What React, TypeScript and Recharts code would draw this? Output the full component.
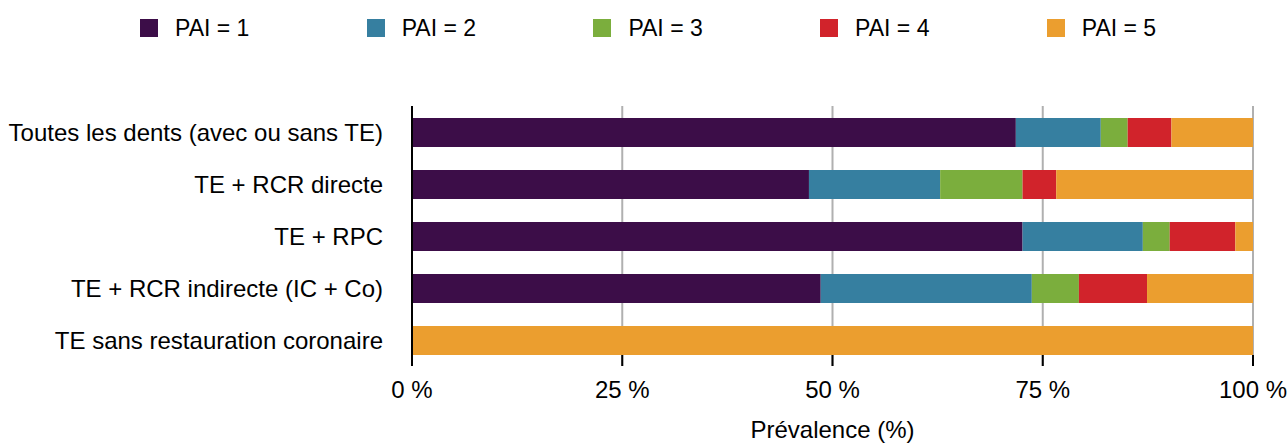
import React from "react"
import { Bar, BarChart, CartesianGrid, Legend, XAxis, YAxis } from "recharts"

document.body.style.margin = "0"

const categories = [
  "Toutes les dents (avec ou sans TE)",
  "TE + RCR directe",
  "TE + RPC",
  "TE + RCR indirecte (IC + Co)",
  "TE sans restauration coronaire",
]

const pai1 = [71.8, 47.2, 72.6, 48.6, 0]
const pai2 = [10.1, 15.6, 14.3, 25.1, 0]
const pai3 = [3.2, 9.8, 3.2, 5.6, 0]
const pai4 = [5.2, 4.0, 7.8, 8.1, 0]
const pai5 = [9.7, 23.4, 2.1, 12.6, 100]

const xTicks = [0, 25, 50, 75, 100]

const series = [
  { key: "pai1", label: "PAI = 1", color: "#3c0d48" },
  { key: "pai2", label: "PAI = 2", color: "#367fa0" },
  { key: "pai3", label: "PAI = 3", color: "#7bae3d" },
  { key: "pai4", label: "PAI = 4", color: "#d1232b" },
  { key: "pai5", label: "PAI = 5", color: "#eb9e2f" },
]

const data = categories.map((name, i) => ({
  name,
  pai1: pai1[i],
  pai2: pai2[i],
  pai3: pai3[i],
  pai4: pai4[i],
  pai5: pai5[i],
}))

const font = '"Liberation Sans", Arial, sans-serif'

function LegendContent() {
  return (
    <div style={{ position: "relative", width: 1288, height: 50, fontFamily: font }}>
      {series.map((s, i) => (
        <div
          key={s.key}
          style={{
            position: "absolute",
            left: 140 + i * 226.7,
            top: 15,
            display: "flex",
            alignItems: "center",
            height: 26,
          }}
        >
          <span style={{ width: 18, height: 18, background: s.color, display: "inline-block" }} />
          <span style={{ marginLeft: 17, fontSize: 23, color: "#000" }}>{s.label}</span>
        </div>
      ))}
    </div>
  )
}

function XTick({ x, y, payload }: any) {
  return (
    <g>
      <line x1={x} x2={x} y1={y - 11} y2={y} stroke="#000" strokeWidth={2} />
      <text x={x} y={y + 23} textAnchor="middle" dominantBaseline="central" fontSize={24} fill="#000" fontFamily={font}>
        {`${payload.value} %`}
      </text>
    </g>
  )
}

export default function App() {
  return (
    <BarChart
      width={1288}
      height={444}
      data={data}
      layout="vertical"
      margin={{ top: 56, right: 35, left: 0, bottom: 6 }}
      style={{ fontFamily: font }}
    >
      <Legend verticalAlign="top" height={50} content={<LegendContent />} wrapperStyle={{ top: 0, left: 0 }} />
      <CartesianGrid horizontal={false} stroke="#b0b0b0" strokeWidth={2} />
      <XAxis
        type="number"
        domain={[0, 100]}
        ticks={xTicks}
        axisLine={false}
        tickLine={false}
        tickSize={0}
        tickMargin={0}
        height={72}
        tick={<XTick />}
        interval={0}
        label={{ value: "Prévalence (%)", position: "insideBottom", offset: 0, fontSize: 24, fill: "#000" }}
      />
      <YAxis
        type="category"
        dataKey="name"
        width={412}
        axisLine={{ stroke: "#000", strokeWidth: 2 }}
        tickLine={false}
        tickSize={0}
        tickMargin={29}
        tick={{ fontSize: 24, fill: "#000" }}
        interval={0}
      />
      {series.map((s) => (
        <Bar key={s.key} dataKey={s.key} stackId="a" fill={s.color} barSize={29} isAnimationActive={false} />
      ))}
    </BarChart>
  )
}
